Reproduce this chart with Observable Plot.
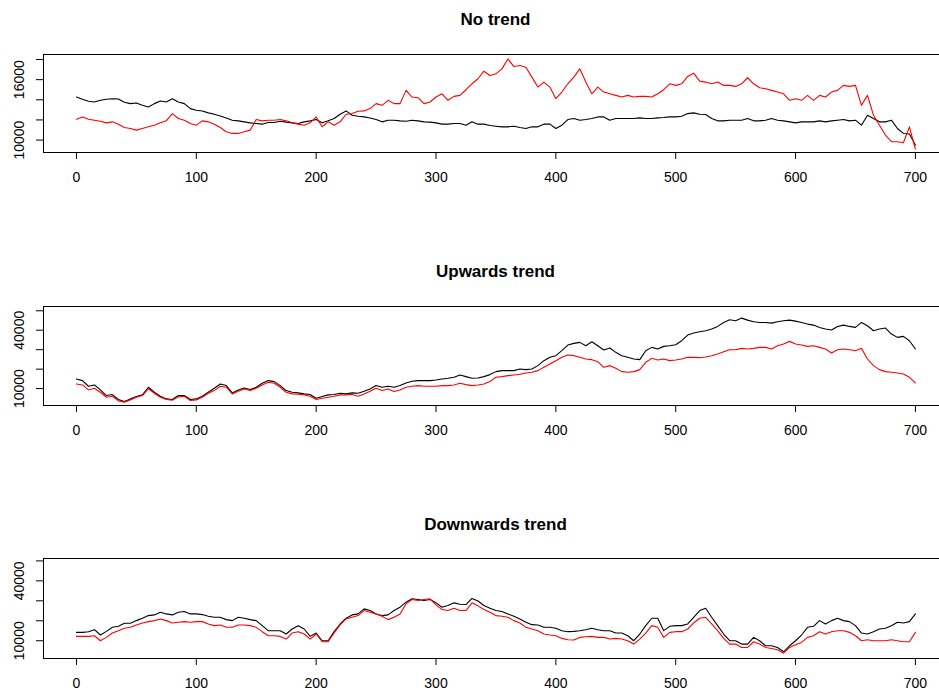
<!DOCTYPE html>
<html>
<head>
<meta charset="utf-8">
<script src="https://cdn.jsdelivr.net/npm/d3@7"></script>
<script src="https://cdn.jsdelivr.net/npm/@observablehq/plot@0.6"></script>
<style>
  html, body { margin: 0; padding: 0; background: #fff; overflow: hidden; width: 939px; height: 693px; }
  #page { position: relative; width: 939px; height: 693px; font-family: "Liberation Sans", Arial, sans-serif; }
  .title { position: absolute; left: 0; width: 991px; text-align: center; font-weight: bold; font-size: 17px;
           line-height: normal; transform: translateY(-50%); color: #000; }
  .panel { position: absolute; left: 0; }
</style>
</head>
<body>
<div id="page"></div>
<script>
// Time index of every series: one reading every 5 steps from 0 to 700
const idx = d3.range(0, 701, 5);

// x axis ticks (shared by all panels)
const xTicks = [0, 100, 200, 300, 400, 500, 600, 700];

// "No trend"
const noTrendTicks = [10000, 12000, 14000, 16000, 18000];
const noTrendLabels = [10000, 16000];
const noTrendBlack = [
  14277,14047,13850,13780,13950,14050,14110,14080,13750,13620,
  13685,13450,13290,13620,13880,13780,14110,13780,13620,13125,
  12960,12895,12700,12565,12400,12200,11975,11910,11810,11710,
  11645,11580,11745,11745,11875,11780,11710,11645,11810,11910,
  12040,11710,11910,12140,12565,12895,12470,12370,12300,12200,
  12040,11810,11975,11975,11910,11875,11975,11910,11810,11780,
  11710,11580,11580,11645,11645,11480,11810,11580,11580,11450,
  11380,11315,11315,11380,11250,11150,11315,11315,11580,11580,
  11150,11480,12040,12140,11975,12040,12140,12300,12300,11975,
  12140,12140,12140,12140,12200,12140,12140,12200,12235,12300,
  12300,12370,12630,12700,12565,12535,12140,11910,11910,11975,
  11975,11975,12140,11910,11910,11975,12140,11975,11910,11810,
  11710,11810,11810,11810,11910,11810,11910,11975,12040,11910,
  11975,11480,12470,12140,11810,11810,11975,11150,10660,10595,
  9505
];
const noTrendRed = [
  12073,12300,12070,11970,11875,11710,11810,11580,11250,11150,
  10990,11150,11320,11480,11710,11910,12630,12140,11970,11645,
  11480,11910,11810,11580,11250,10820,10660,10660,10820,10990,
  12040,11910,11970,11970,12040,11910,11710,11580,11480,11710,
  12300,11320,11810,11480,11810,12565,12630,12860,12895,13125,
  13620,13450,13950,13620,13620,14935,14277,14210,13620,13785,
  14277,14600,13950,14340,14440,15000,15590,16090,16840,16415,
  16580,17075,18060,17300,17400,17240,16250,15265,15760,15265,
  14110,14770,15590,16250,17075,15760,14600,15265,14770,14600,
  14440,14277,14440,14277,14340,14340,14277,14600,15000,15590,
  15430,15590,16320,16645,15855,15760,15590,15760,15430,15430,
  15330,15590,16190,15590,15200,15100,14935,14770,14600,13950,
  14110,13950,14440,13950,14440,14277,14770,14935,15430,15330,
  15430,13450,14440,12470,11480,10495,9835,9835,9735,11315,
  9110
];

// "Upwards trend"
const trendTicks = [10000, 20000, 30000, 40000, 50000];
const trendLabels = [10000, 40000];
const upBlack = [
  14956,14100,11200,11880,9316,6410,6920,4360,3335,4700,
  5900,6750,10680,8120,6070,4700,4360,6410,6410,4360,
  4700,6070,8120,10170,12390,11540,7780,9316,10340,9490,
  10680,12730,14100,13590,11540,8975,8120,7780,7270,6920,
  5040,5900,6750,6920,7610,7270,7780,7610,8630,9830,
  11540,10680,11200,10680,11540,12900,13760,14100,14100,14100,
  14440,14956,15300,15810,17000,16150,15300,15470,16150,17180,
  18720,19230,19230,19230,20080,19740,20080,21800,24360,26060,
  26920,29480,32390,33240,33760,32050,34100,32050,29820,30850,
  28630,26920,26060,25210,24870,29480,31190,30340,31700,32050,
  32560,34610,37520,38540,39220,39740,40590,41960,44010,45380,
  44860,46230,45200,44350,44010,44010,43670,44350,44860,45200,
  44690,44010,43160,42640,41450,40590,40080,41960,42640,41960,
  41450,44010,42300,39740,40590,41110,38030,36320,36830,34610,
  30340
];
const upRed = [
  12390,11880,9316,10170,8120,5560,6070,3680,2990,4190,
  5560,6410,9830,7610,5560,4360,4020,5730,6070,3850,
  4190,5560,7610,8975,11200,10680,7270,8630,9830,8975,
  10170,11880,13250,12730,10680,8120,7270,7100,6750,6070,
  4360,5040,5560,6070,6750,6750,6920,6070,7270,8630,
  10170,8975,9830,8460,9316,10680,11200,11540,11200,11200,
  11200,11540,11540,11880,12730,12050,11540,11880,12390,13590,
  15810,16150,16660,17000,17350,18030,18370,19230,20940,22650,
  24360,26060,27260,26920,26060,25210,24870,23840,20940,21800,
  20420,18720,18370,18720,19740,23500,25550,24700,25210,24360,
  24700,25210,26060,26060,25890,26230,26920,27770,28970,30000,
  30000,30680,30340,30680,31190,31190,30340,32050,32900,34270,
  32900,32390,31700,32050,31190,30340,28290,30000,30340,30000,
  29480,30680,25210,21800,19740,18720,18370,18030,17520,15810,
  12900
];

// "Downwards trend"
const downBlack = [
  14200,14200,14540,15540,12860,14700,16720,17220,18740,18740,
  20080,21260,22600,22940,24280,23440,22940,24280,24620,23440,
  23440,23100,22260,21760,21760,20580,20080,21760,21260,20580,
  20080,17560,15040,15040,15040,13360,15880,17560,15880,12180,
  13860,10000,10000,14540,18400,21260,22940,23440,25960,25120,
  23440,22600,22940,25120,26800,29320,31000,30660,30160,30660,
  28980,26800,27640,28980,28300,28140,31170,29900,27640,26300,
  25120,24620,23440,22260,20920,19240,18060,17900,16720,16720,
  16220,15040,14540,14700,15040,15540,16220,15540,15040,15040,
  13860,13860,12520,10000,13360,17560,21260,21260,15040,17220,
  17560,17560,18400,21760,25120,26300,21760,17560,13360,10000,
  10000,8320,8320,11680,10000,7480,7480,6640,4460,7480,
  10000,12860,16720,17220,20080,18400,20080,21260,20080,19580,
  17560,13860,13360,14540,15880,16220,17560,19240,18900,19580,
  23440
];
const downRed = [
  12180,12180,12180,12520,10000,11680,13860,15040,16220,16720,
  17900,18900,19580,20080,20920,20080,18900,19240,19580,19240,
  19580,19580,18400,17560,17900,16720,16720,17900,17900,17560,
  16720,14540,12520,12520,12180,10840,13860,14540,13360,10840,
  13360,9500,9500,13860,17900,20920,21760,22600,25120,24280,
  23440,22260,20580,21760,23440,28480,30660,30160,30660,31000,
  27980,25620,25120,26300,25120,25120,28980,27470,25620,24280,
  22600,22260,21760,20080,18900,16720,15880,15040,13360,12860,
  12520,11180,10500,10340,11680,12020,12180,11680,11680,10840,
  11180,10840,10000,8320,10840,13860,17560,16720,11680,14200,
  14540,14540,15880,18900,21260,21760,18400,15040,11180,8320,
  8320,6640,6640,9500,8320,6640,6140,5460,3780,6640,
  7980,9160,11680,12520,14540,13360,14540,15040,15040,14200,
  12520,10000,10500,10000,10000,10000,10500,10000,9500,9500,
  14200
];

const panels = [
  {title: "No trend", titleY: 20, top: 49, boxH: 98, yDomain: [8765, 18500],
   ticks: noTrendTicks, labels: noTrendLabels, black: noTrendBlack, red: noTrendRed},
  {title: "Upwards trend", titleY: 272, top: 301, boxH: 99, yDomain: [1300, 52200],
   ticks: trendTicks, labels: trendLabels, black: upBlack, red: upRed},
  {title: "Downwards trend", titleY: 525, top: 553, boxH: 100, yDomain: [1100, 51200],
   ticks: trendTicks, labels: trendLabels, black: downBlack, red: downRed}
];

const xDomain = [-27.5, 720.1];
const font = "'Liberation Sans', Arial, sans-serif";
const page = document.getElementById("page");

for (const p of panels) {
  const title = document.createElement("div");
  title.className = "title";
  title.style.top = p.titleY + "px";
  title.textContent = p.title;
  page.appendChild(title);

  const rows = s => idx.map((t, i) => ({t, v: s[i]}));
  const mt = 5, mb = 40;

  const chart = Plot.plot({
    width: 939,
    height: mt + p.boxH + mb,
    marginTop: mt,
    marginBottom: mb,
    marginLeft: 43,
    marginRight: 0,
    style: {fontFamily: font, fontSize: "14px", color: "#000", background: "transparent", overflow: "visible"},
    x: {domain: xDomain, label: null},
    y: {domain: p.yDomain, label: null},
    marks: [
      // box: top, bottom and left sides (the right side lies past the page edge)
      Plot.ruleY(p.yDomain, {stroke: "#000", strokeWidth: 1}),
      Plot.ruleX([xDomain[0]], {stroke: "#000", strokeWidth: 1}),
      Plot.axisX(xTicks, {label: null, tickSize: 7, tickPadding: 13, tickFormat: d => String(d), stroke: "#000", strokeOpacity: 1}),
      Plot.axisY(p.ticks, {label: null, tickSize: 7, tickFormat: () => "", stroke: "#000", strokeOpacity: 1}),
      Plot.text(p.labels, {y: d => d, text: d => String(d), frameAnchor: "left", dx: -24, rotate: -90,
        textAnchor: "middle", lineAnchor: "middle", fill: "#000", fontSize: 14}),
      Plot.line(rows(p.black), {x: "t", y: "v", stroke: "#000", strokeWidth: 1.1}),
      Plot.line(rows(p.red), {x: "t", y: "v", stroke: "#ff0000", strokeWidth: 1.1})
    ]
  });
  const wrap = document.createElement("div");
  wrap.className = "panel";
  wrap.style.top = p.top + "px";
  wrap.appendChild(chart);
  page.appendChild(wrap);
}
</script>
</body>
</html>
